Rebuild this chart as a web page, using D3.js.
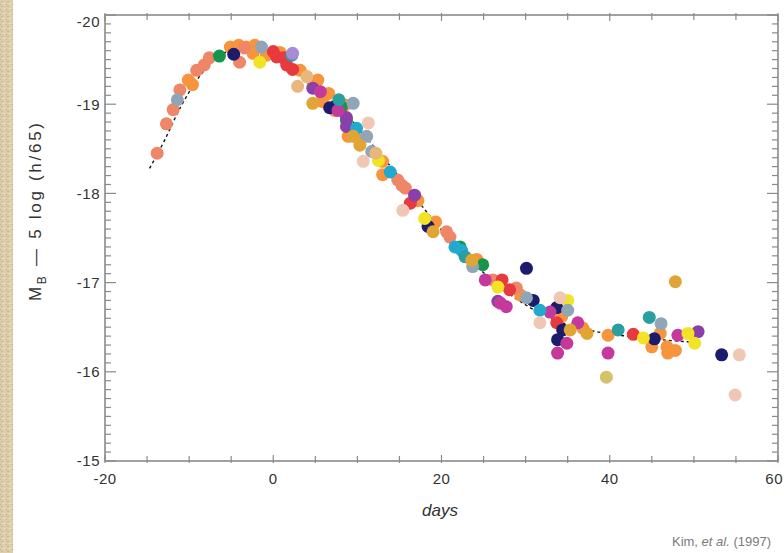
<!DOCTYPE html>
<html>
<head>
<meta charset="utf-8">
<script src="https://cdn.jsdelivr.net/npm/d3@7"></script>
<style>
  html, body { margin: 0; padding: 0; background: #ffffff; }
  svg { display: block; }
  text { font-family: "Liberation Sans", Arial, Helvetica, sans-serif; }
</style>
</head>
<body>
<script>
// ---------------- DATA ----------------
const xTickValues = [-20, 0, 20, 40, 60];
const yTickValues = [-20, -19, -18, -17, -16, -15];

// template light curve (dashed)
const templateDays = [-14.7, -13, -11, -9, -7, -5, -3, 0, 3, 6, 9, 12, 15, 18, 21, 24, 27, 30, 33, 36, 39, 42, 45, 50];
const templateMags = [-18.28, -18.58, -18.97, -19.28, -19.5, -19.6, -19.62, -19.55, -19.38, -19.12, -18.85, -18.52, -18.18, -17.82, -17.48, -17.2, -16.95, -16.75, -16.6, -16.5, -16.44, -16.4, -16.37, -16.33];

// individual supernovae
const orangeDays = [-10.1, -9.6, -5.1, -4.1, -3.2, -2.2, -2.4, -0.8, 0.8, 3.2, 4.7, 5.3, 5.9, 6.6, 8.5, 8.9, 5.8, 10.2, 13.0, 13.0, 17.2, 19.3, 24.2, 29.4, 34.3, 36.8, 46.0, 45.0, 46.8, 46.9, 47.8, 39.8];
const orangeMags = [-19.27, -19.22, -19.64, -19.66, -19.64, -19.66, -19.57, -19.55, -19.58, -19.38, -19.25, -19.27, -19.07, -19.12, -18.99, -18.64, -19.03, -18.6, -18.36, -18.21, -17.92, -17.68, -17.26, -16.86, -16.62, -16.49, -16.43, -16.28, -16.28, -16.21, -16.24, -16.41];

const salmonDays = [-13.8, -12.7, -11.9, -11.1, -9.1, -8.2, -7.6, -4.0, -3.4, 7.3, 14.8, 15.3, 15.7, 20.6, 21.0, 28.9, 26.1];
const salmonMags = [-18.45, -18.78, -18.94, -19.16, -19.38, -19.44, -19.52, -19.47, -19.63, -18.93, -18.15, -18.09, -18.06, -17.57, -17.51, -16.94, -17.03];

const redDays = [0.0, 0.4, 1.2, 1.6, 2.3, 16.3, 28.1, 27.2, 42.8, 33.7];
const redMags = [-19.59, -19.53, -19.52, -19.44, -19.39, -17.89, -16.92, -17.03, -16.42, -16.55];

const greenDays = [-6.4, 8.7, 24.9, 8.1, 22.2];
const greenMags = [-19.54, -18.82, -17.2, -18.97, -17.4];

const navyDays = [-4.7, 6.7, 18.4, 30.1, 30.9, 33.7, 34.4, 33.8, 45.3, 53.3];
const navyMags = [-19.56, -18.96, -17.63, -17.16, -16.8, -16.72, -16.47, -16.36, -16.37, -16.19];

const purpleDays = [4.7, 8.7, 8.7, 16.8, 26.7, 50.5];
const purpleMags = [-19.18, -18.75, -18.85, -17.98, -16.79, -16.45];

const magentaDays = [5.6, 7.7, 25.2, 32.9, 34.9, 33.8, 39.8, 48.1, 36.2, 27.0, 27.7];
const magentaMags = [-19.14, -18.93, -17.03, -16.67, -16.32, -16.21, -16.21, -16.41, -16.55, -16.77, -16.73];

const yellowDays = [-1.6, 12.5, 18.0, 26.7, 35.0, 44.0, 49.3, 50.1];
const yellowMags = [-19.47, -18.37, -17.72, -16.95, -16.8, -16.38, -16.43, -16.32];

const cyanDays = [21.6, 31.7, 9.9, 13.9, 22.4];
const cyanMags = [-17.4, -16.69, -18.73, -18.24, -17.36];

const tealDays = [2.2, 7.8, 22.8, 41.0, 44.7];
const tealMags = [-19.55, -19.05, -17.29, -16.47, -16.61];

const grayDays = [-11.4, -1.4, 9.5, 11.1, 11.7, 23.7, 30.1, 35.0, 46.1];
const grayMags = [-19.05, -19.64, -19.01, -18.64, -18.47, -17.18, -16.83, -16.69, -16.54];

const goldDays = [4.7, 9.5, 10.3, 19.0, 23.6, 35.3, 37.3, 47.8];
const goldMags = [-19.01, -18.64, -18.54, -17.57, -17.25, -16.47, -16.43, -17.01];

const tanDays = [2.9, 4.0, 12.2];
const tanMags = [-19.2, -19.31, -18.45];

const pinkDays = [11.3, 10.7, 15.4, 34.1, 31.7, 55.4, 54.9];
const pinkMags = [-18.79, -18.36, -17.81, -16.83, -16.55, -16.19, -15.74];

const lavenderDays = [2.3];
const lavenderMags = [-19.57];

const khakiDays = [39.6];
const khakiMags = [-15.94];

const seriesNames = ["orange", "salmon", "red", "green", "navy", "purple", "magenta", "yellow", "cyan", "teal", "gray", "gold", "tan", "pink", "lavender", "khaki"];
const seriesColors = ["#f7943c", "#ef8668", "#e63a3f", "#17954b", "#1d1b6b", "#8b3fa8", "#c4399c", "#f3e326", "#22a9d0", "#2b9fa0", "#90a6b8", "#e1a536", "#e9b77c", "#f0c7b4", "#a98ad6", "#d4c36a"];
const seriesDays = [orangeDays, salmonDays, redDays, greenDays, navyDays, purpleDays, magentaDays, yellowDays, cyanDays, tealDays, grayDays, goldDays, tanDays, pinkDays, lavenderDays, khakiDays];
const seriesMags = [orangeMags, salmonMags, redMags, greenMags, navyMags, purpleMags, magentaMags, yellowMags, cyanMags, tealMags, grayMags, goldMags, tanMags, pinkMags, lavenderMags, khakiMags];

// ---------------- CHART ----------------
const W = 784, H = 553;
const L = 105, R = 778, T = 15, B = 461;

const svg = d3.select("body").append("svg").attr("width", W).attr("height", H);

// textured strip on left
const defs = svg.append("defs");
const pat = defs.append("pattern").attr("id", "tex").attr("width", 6).attr("height", 5).attr("patternUnits", "userSpaceOnUse");
pat.append("rect").attr("width", 6).attr("height", 5).attr("fill", "#dccdab");
pat.append("rect").attr("x", 1).attr("y", 1).attr("width", 2).attr("height", 1).attr("fill", "#c9b88f");
pat.append("rect").attr("x", 3).attr("y", 3).attr("width", 2).attr("height", 1).attr("fill", "#eee4cc");
pat.append("rect").attr("x", 0).attr("y", 4).attr("width", 1).attr("height", 1).attr("fill", "#bfae86");
svg.append("rect").attr("x", 0).attr("y", 0).attr("width", 13).attr("height", H).attr("fill", "url(#tex)");

const x = d3.scaleLinear().domain([-20, 60]).range([L, R]);
const y = d3.scaleLinear().domain([-20, -15]).range([T, B]);

const axisColor = "#8a8a8a";
const g = svg.append("g");

// ticks
const minorY = d3.range(-20, -14.95, 0.1).map(v => +v.toFixed(1));
const minorX = d3.range(-20, 60.01, 5);

minorY.forEach(v => {
  const major = Math.abs(v - Math.round(v)) < 1e-6;
  const len = major ? 11 : 6;
  g.append("line").attr("x1", L).attr("x2", L + len).attr("y1", y(v)).attr("y2", y(v)).attr("stroke", axisColor).attr("stroke-width", 1.2);
  g.append("line").attr("x1", R).attr("x2", R - len).attr("y1", y(v)).attr("y2", y(v)).attr("stroke", axisColor).attr("stroke-width", 1.2);
});
minorX.forEach(v => {
  const major = v % 20 === 0;
  const len = major ? 6 : 5;
  g.append("line").attr("x1", x(v)).attr("x2", x(v)).attr("y1", B + 2).attr("y2", B - len).attr("stroke", axisColor).attr("stroke-width", 1.2);
  g.append("line").attr("x1", x(v)).attr("x2", x(v)).attr("y1", T - 2).attr("y2", T + len).attr("stroke", axisColor).attr("stroke-width", 1.2);
});

// frame
g.append("rect").attr("x", L).attr("y", T).attr("width", R - L).attr("height", B - T)
  .attr("fill", "none").attr("stroke", axisColor).attr("stroke-width", 1.6);

// tick labels
g.selectAll(".ylab").data(yTickValues).enter().append("text")
  .attr("x", L - 5)
  .attr("y", d => y(d) + (d === -20 ? 7 : 0))
  .attr("dy", "0.36em")
  .attr("text-anchor", "end")
  .attr("font-size", 15)
  .attr("letter-spacing", 0.5)
  .attr("fill", "#333")
  .text(d => String(d));

g.selectAll(".xlab").data(xTickValues).enter().append("text")
  .attr("x", d => d === 60 ? W - 1 : x(d))
  .attr("y", B + 18)
  .attr("dy", "0.36em")
  .attr("text-anchor", d => d === 60 ? "end" : "middle")
  .attr("font-size", 15)
  .attr("letter-spacing", 0.5)
  .attr("fill", "#333")
  .text(d => String(d));

// axis titles
svg.append("text")
  .attr("x", 440).attr("y", 510).attr("dy", "0.36em")
  .attr("text-anchor", "middle")
  .attr("font-size", 17).attr("font-style", "italic").attr("fill", "#333")
  .text("days");

const yt = svg.append("text")
  .attr("transform", "translate(41,212) rotate(-90)")
  .attr("text-anchor", "middle")
  .attr("font-size", 17).attr("fill", "#333")
  .attr("textLength", 178).attr("lengthAdjust", "spacing");
yt.append("tspan").text("M");
yt.append("tspan").attr("font-size", 12).attr("dy", 5).text("B");
yt.append("tspan").attr("dy", -5).text("  \u2014  5 log (h/65)");

const credit = svg.append("text")
  .attr("x", 771).attr("y", 546)
  .attr("text-anchor", "end")
  .attr("font-size", 13).attr("fill", "#7a7a7a");
credit.append("tspan").text("Kim, ");
credit.append("tspan").attr("font-style", "italic").text("et al.");
credit.append("tspan").text(" (1997)");

// template curve
const line = d3.line().x(d => x(d[0])).y(d => y(d[1])).curve(d3.curveMonotoneX);
svg.append("path")
  .datum(templateDays.map((d, i) => [d, templateMags[i]]))
  .attr("d", line)
  .attr("fill", "none")
  .attr("stroke", "#111")
  .attr("stroke-width", 1.4)
  .attr("stroke-dasharray", "3,3");

// points
const pts = [];
seriesNames.forEach((n, s) => {
  seriesDays[s].forEach((d, i) => pts.push({ s, day: d, mag: seriesMags[s][i] }));
});
svg.append("g").selectAll("circle").data(pts).enter().append("circle")
  .attr("cx", d => x(d.day))
  .attr("cy", d => y(d.mag))
  .attr("r", 6.5)
  .attr("fill", d => seriesColors[d.s]);
</script>
</body>
</html>
